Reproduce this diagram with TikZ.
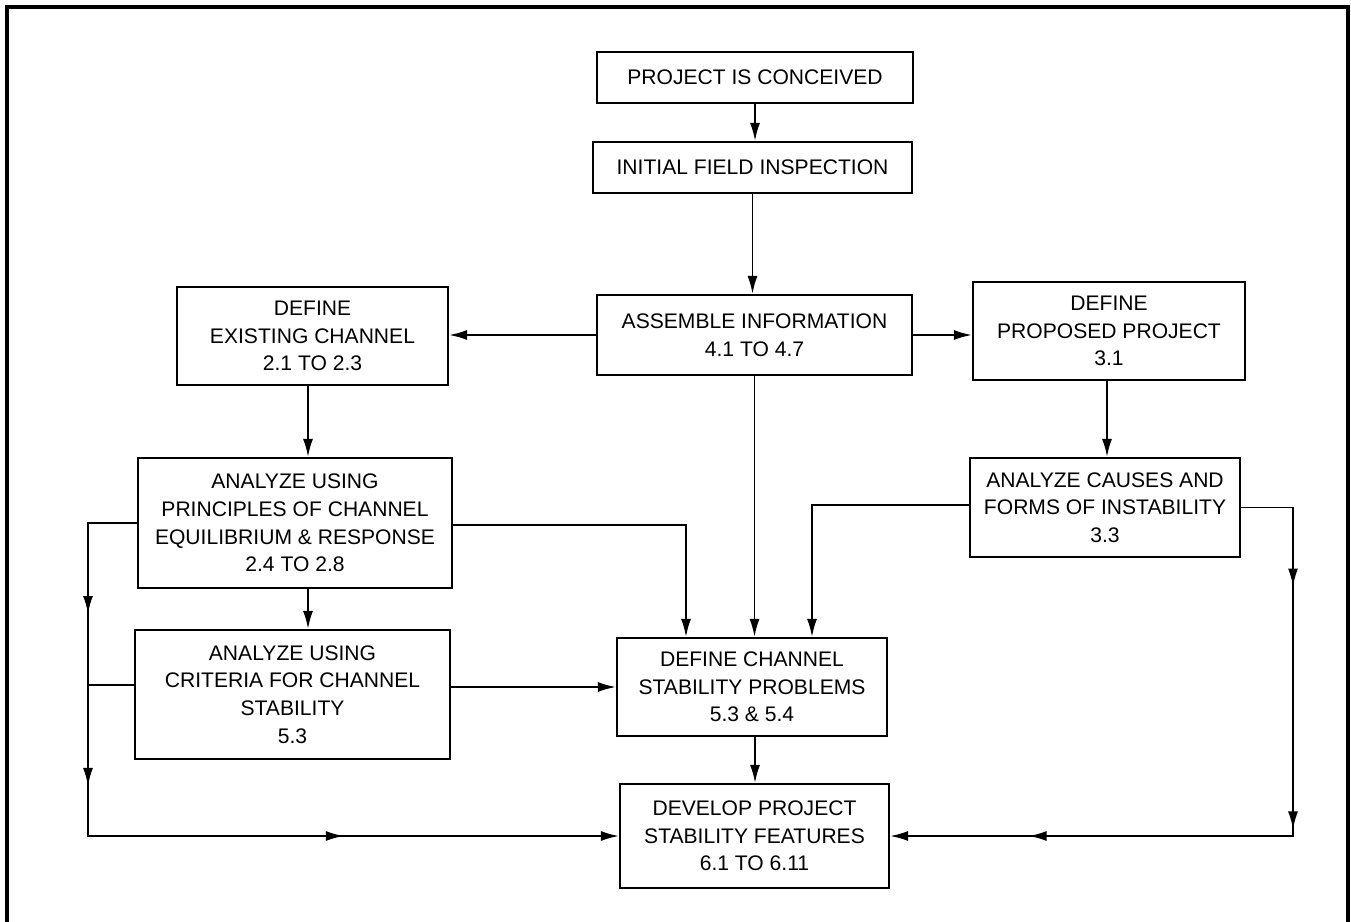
\documentclass[tikz,border=0pt]{standalone}
\usepackage{fontspec}
\setmainfont{Liberation Sans}
\usetikzlibrary{arrows.meta,decorations.markings}

\begin{document}
\begin{tikzpicture}[x=0.02cm,y=-0.02cm,>={Latex[length=3.6mm,width=2mm]},
  box/.style={draw,line width=1.2pt,align=center,inner sep=0pt,
    font=\fontsize{12}{15.7}\selectfont},
  link/.style={line width=1.1pt},
  tipsat/.style args={#1,#2,#3}{postaction={decorate},decoration={markings,
    mark=at position #1 with {\arrow{>}},
    mark=at position #2 with {\arrow{>}},
    mark=at position #3 with {\arrow{>}}}}]
  \useasboundingbox (0,0) rectangle (1351,922);
  \draw[line width=2pt] (7,922) -- (7,7) -- (1348,7) -- (1348,922);
  % boxes
  \node[box,minimum width=6.32cm,minimum height=1.02cm] (conceived) at (755,77.5)  {PROJECT IS CONCEIVED};
  \node[box,minimum width=6.38cm,minimum height=1.02cm] (inspect)   at (752.5,167.5) {INITIAL FIELD INSPECTION};
  \node[box,minimum width=6.30cm,minimum height=1.60cm] (assemble)  at (754.5,335) {ASSEMBLE INFORMATION\\4.1 TO 4.7};
  \node[box,minimum width=5.42cm,minimum height=1.96cm] (existing)  at (312.5,336) {DEFINE\\EXISTING CHANNEL\\2.1 TO 2.3};
  \node[box,minimum width=5.44cm,minimum height=1.96cm] (proposed)  at (1109,331)  {DEFINE\\PROPOSED PROJECT\\3.1};
  \node[box,minimum width=6.28cm,minimum height=2.60cm] (principles) at (295,523)  {ANALYZE USING\\PRINCIPLES OF CHANNEL\\EQUILIBRIUM \& RESPONSE\\2.4 TO 2.8};
  \node[box,minimum width=6.30cm,minimum height=2.58cm] (criteria)  at (292.5,694.5) {ANALYZE USING\\CRITERIA FOR CHANNEL\\STABILITY\\5.3};
  \node[box,minimum width=5.40cm,minimum height=1.98cm] (causes)    at (1105,507.5) {ANALYZE CAUSES AND\\FORMS OF INSTABILITY\\3.3};
  \node[box,minimum width=5.40cm,minimum height=1.96cm] (problems)  at (752,687)   {DEFINE CHANNEL\\STABILITY PROBLEMS\\5.3 \& 5.4};
  \node[box,minimum width=5.38cm,minimum height=2.08cm] (develop)   at (754.5,836) {DEVELOP PROJECT\\STABILITY FEATURES\\6.1 TO 6.11};
  % turning points
  \coordinate (pcorner) at (686,525);
  \coordinate (ccorner) at (812,505);
  \coordinate (lcorner) at (88,836);
  \coordinate (rcorner) at (1293,836);
  \coordinate (cjoin) at (88,685);
  % connectors
  \draw[link,->] (conceived.south) -- (conceived.south |- inspect.north);
  \draw[link,->] (inspect.south) -- (inspect.south |- assemble.north);
  \draw[link,->] (assemble.west) -- (assemble.west -| existing.east);
  \draw[link,->] (assemble.east) -- (assemble.east -| proposed.west);
  \draw[link,->] (existing.south -| 308,0) -- (principles.north -| 308,0);
  \draw[link,->] (proposed.south -| 1107,0) -- (causes.north -| 1107,0);
  \draw[link,->] (assemble.south) -- (assemble.south |- problems.north);
  \draw[link,->] (principles.east |- pcorner) -- (pcorner) -- (pcorner |- problems.north);
  \draw[link,->] (causes.west |- ccorner) -- (ccorner) -- (ccorner |- problems.north);
  \draw[link,->] (criteria.east |- 0,687) -- (problems.west |- 0,687);
  \draw[link,->] (principles.south -| 308,0) -- (criteria.north -| 308,0);
  \draw[link,->] (problems.south -| 755,0) -- (develop.north -| 755,0);
  % left loop
  \draw[link,->,tipsat={2.8cm,6.24cm,12.36cm}] (principles.west) -| (lcorner) -- (develop.west);
  \draw[link] (criteria.west |- cjoin) -- (cjoin);
  % right loop
  \draw[link,->,tipsat={2.62cm,7.48cm,12.9cm}] (causes.east) -| (rcorner) -- (develop.east);
\end{tikzpicture}
\end{document}
